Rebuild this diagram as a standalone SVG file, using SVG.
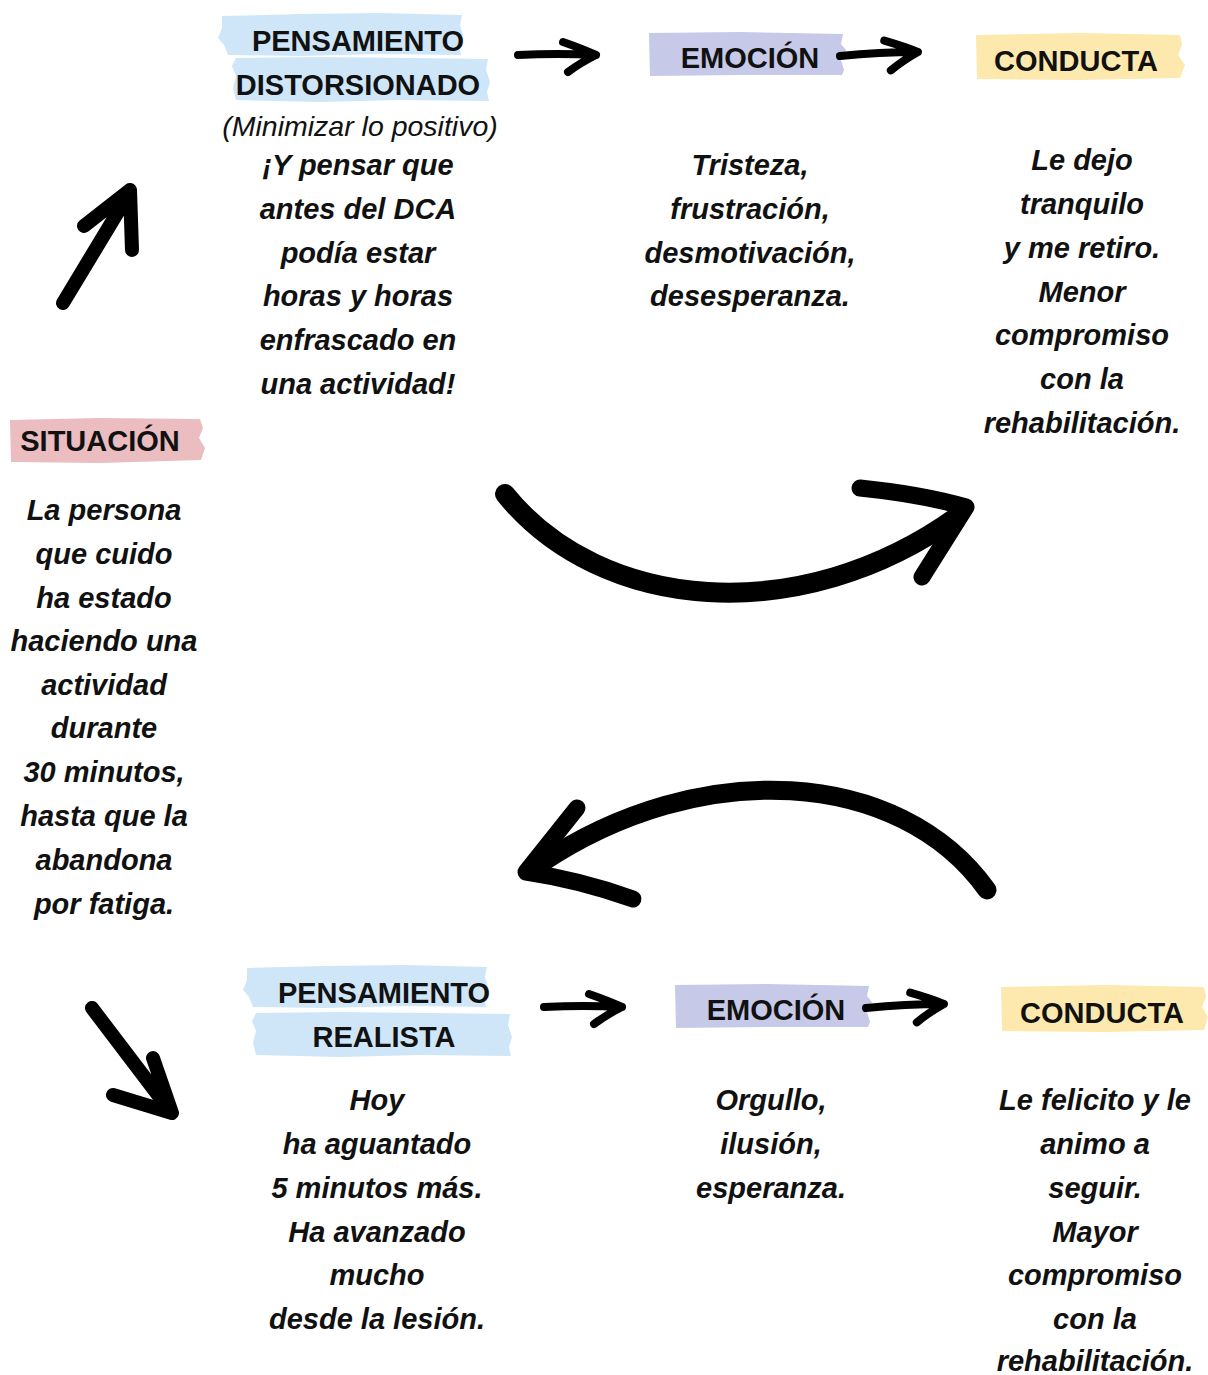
<svg xmlns="http://www.w3.org/2000/svg" width="1208" height="1375" viewBox="0 0 1208 1375">
<style>
.h{font-family:"Liberation Sans",Arial,sans-serif;font-weight:bold;font-size:29px;fill:#111;text-anchor:middle}
.sub{font-family:"Liberation Sans",Arial,sans-serif;font-style:italic;font-size:28.5px;fill:#111;text-anchor:middle}
.b{font-family:"Liberation Sans",Arial,sans-serif;font-weight:bold;font-style:italic;font-size:29px;fill:#111;text-anchor:middle}
.blue{fill:#cfe6f8}.lav{fill:#c6c9e7}.yel{fill:#fde9ae}.pink{fill:#ebbdc0}
.arr{fill:none;stroke:#000;stroke-linecap:round;stroke-linejoin:round}
</style>
<rect width="1208" height="1375" fill="#fff"/>
<defs>
<path id="ar" d="M0,0 Q40,-2 78,0 M45,-13 Q65,-6 78,0 Q62,8 50,17"/>
</defs>

<g id="situacion">
<path class="pink" d="M10,420 L100,418 L200,419 L203,428 L199,438 L205,448 L201,460 L100,463 L11,462 Z"/>
<text class="h" x="100" y="451">SITUACIÓN</text>
<text class="b" x="104"><tspan x="104" y="520">La persona</tspan><tspan x="104" y="564">que cuido</tspan><tspan x="104" y="608">ha estado</tspan><tspan x="104" y="651">haciendo una</tspan><tspan x="104" y="695">actividad</tspan><tspan x="104" y="738">durante</tspan><tspan x="104" y="782">30 minutos,</tspan><tspan x="104" y="826">hasta que la</tspan><tspan x="104" y="870">abandona</tspan><tspan x="104" y="914">por fatiga.</tspan></text>
</g>

<g id="pensamiento-distorsionado">
<path class="blue" d="M222,16 L300,14 L380,13 L462,15 L460,25 L463,35 L459,45 L461,55 L380,54 L300,56 L228,55 L224,45 L218,38 L222,28 Z"/>
<path class="blue" d="M236,58 L320,57 L410,58 L488,59 L486,70 L490,82 L487,92 L489,101 L400,100 L320,102 L236,100 L233,88 L236,76 L232,66 Z"/>
<text class="h" x="358" y="51">PENSAMIENTO</text>
<text class="h" x="358" y="95">DISTORSIONADO</text>
<text class="sub" x="360" y="136">(Minimizar lo positivo)</text>
<text class="b"><tspan x="358" y="175">¡Y pensar que</tspan><tspan x="358" y="219">antes del DCA</tspan><tspan x="358" y="263">podía estar</tspan><tspan x="358" y="306">horas y horas</tspan><tspan x="358" y="350">enfrascado en</tspan><tspan x="358" y="394">una actividad!</tspan></text>
</g>

<g id="emocion-1">
<path class="lav" d="M649,33 L740,32 L843,34 L841,44 L846,50 L841,60 L844,70 L842,75 L740,75 L650,76 Z"/>
<text class="h" x="750" y="68">EMOCIÓN</text>
<text class="b"><tspan x="750" y="175">Tristeza,</tspan><tspan x="750" y="219">frustración,</tspan><tspan x="750" y="263">desmotivación,</tspan><tspan x="750" y="306">desesperanza.</tspan></text>
</g>

<g id="conducta-1">
<path class="yel" d="M976,35 L1080,33 L1180,35 L1182,45 L1178,55 L1185,65 L1180,78 L1080,80 L977,79 Z"/>
<text class="h" x="1076" y="71">CONDUCTA</text>
<text class="b"><tspan x="1082" y="170">Le dejo</tspan><tspan x="1082" y="214">tranquilo</tspan><tspan x="1082" y="258">y me retiro.</tspan><tspan x="1082" y="302">Menor</tspan><tspan x="1082" y="345">compromiso</tspan><tspan x="1082" y="389">con la</tspan><tspan x="1082" y="433">rehabilitación.</tspan></text>
</g>

<g id="pensamiento-realista">
<path class="blue" d="M247,968 L325,966 L405,965 L487,967 L485,977 L488,987 L484,997 L486,1007 L405,1006 L325,1008 L253,1007 L249,997 L243,990 L247,980 Z"/>
<path class="blue" d="M256,1013 L340,1012 L430,1013 L510,1014 L508,1025 L512,1037 L509,1047 L511,1056 L420,1055 L340,1057 L256,1055 L253,1043 L256,1031 L252,1021 Z"/>
<text class="h" x="384" y="1003">PENSAMIENTO</text>
<text class="h" x="384" y="1047">REALISTA</text>
<text class="b"><tspan x="377" y="1110">Hoy</tspan><tspan x="377" y="1154">ha aguantado</tspan><tspan x="377" y="1198">5 minutos más.</tspan><tspan x="377" y="1242">Ha avanzado</tspan><tspan x="377" y="1285">mucho</tspan><tspan x="377" y="1329">desde la lesión.</tspan></text>
</g>

<g id="emocion-2">
<path class="lav" d="M675,985 L766,984 L869,986 L867,996 L872,1002 L867,1012 L870,1022 L868,1027 L766,1027 L676,1028 Z"/>
<text class="h" x="776" y="1020">EMOCIÓN</text>
<text class="b"><tspan x="771" y="1110">Orgullo,</tspan><tspan x="771" y="1154">ilusión,</tspan><tspan x="771" y="1198">esperanza.</tspan></text>
</g>

<g id="conducta-2">
<path class="yel" d="M1001,987 L1105,985 L1204,987 L1206,997 L1202,1007 L1208,1017 L1204,1030 L1105,1032 L1002,1031 Z"/>
<text class="h" x="1102" y="1023">CONDUCTA</text>
<text class="b"><tspan x="1095" y="1110">Le felicito y le</tspan><tspan x="1095" y="1154">animo a</tspan><tspan x="1095" y="1198">seguir.</tspan><tspan x="1095" y="1242">Mayor</tspan><tspan x="1095" y="1285">compromiso</tspan><tspan x="1095" y="1329">con la</tspan><tspan x="1095" y="1371">rehabilitación.</tspan></text>
</g>

<g id="connectors">
<use href="#ar" class="arr" stroke-width="8" transform="translate(518,55)"/>
<use href="#ar" class="arr" stroke-width="8" transform="translate(840,56) rotate(-3)"/>
<use href="#ar" class="arr" stroke-width="8" transform="translate(544,1007)"/>
<use href="#ar" class="arr" stroke-width="8" transform="translate(866,1008) rotate(-3)"/>
<path class="arr" stroke-width="14" d="M63,303 L127,197 M84,226 L130,190 L132,250"/>
<path class="arr" stroke-width="14" d="M92,1008 L168,1108 M113,1095 L172,1113 L153,1058"/>
<path class="arr" stroke-width="20" d="M505,494 C600,612 800,630 958,516"/>
<path class="arr" stroke-width="17" d="M860,488 Q920,494 966,507 L922,577"/>
<path class="arr" stroke-width="19" d="M987,890 C900,768 700,756 540,864"/>
<path class="arr" stroke-width="17" d="M577,808 L526,872 Q580,880 633,899"/>
</g>
</svg>
